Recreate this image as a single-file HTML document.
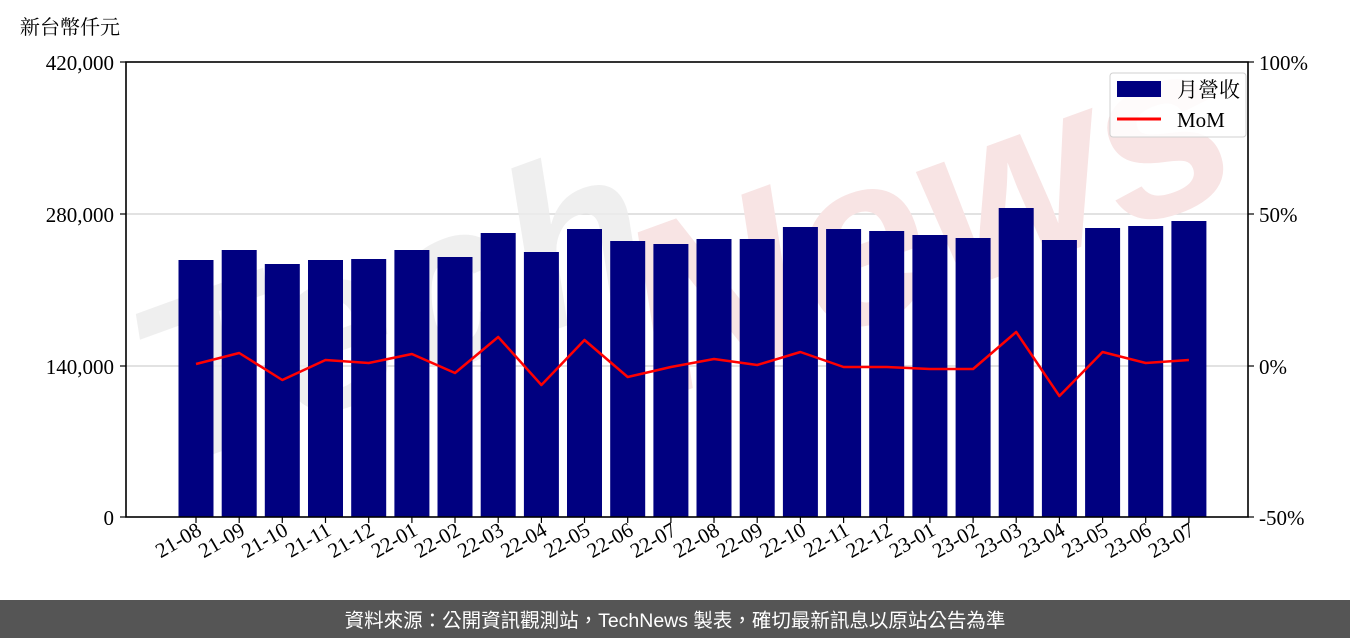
<!DOCTYPE html>
<html><head><meta charset="utf-8"><style>
html,body{margin:0;padding:0;background:#fff;}
svg{display:block;}
.t{font-family:"Liberation Serif","Noto Serif CJK SC",serif;font-size:21px;fill:#000;}
</style></head><body>
<svg width="1350" height="638" viewBox="0 0 1350 638" xmlns="http://www.w3.org/2000/svg">
<text x="20" y="34" class="t" style="font-family:'Liberation Serif','Noto Serif CJK TC',serif;font-size:20px">新台幣仟元</text>
<line x1="126" y1="214" x2="1248" y2="214" stroke="#d8d8d8" stroke-width="1.5"/>
<line x1="126" y1="366" x2="1248" y2="366" stroke="#d8d8d8" stroke-width="1.5"/>
<g font-family="Liberation Sans, sans-serif" font-weight="bold" font-style="italic">
<text x="170" y="470" font-size="230" fill="#ececec" opacity="0.8" transform="rotate(-20 170 470)">Tech</text>
<text x="660" y="400" font-size="240" fill="#f8e4e4" transform="rotate(-20 660 400)">News</text>
</g>
<g fill="#000080">
<rect x="178.5" y="260" width="35" height="257"/>
<rect x="221.7" y="250" width="35" height="267"/>
<rect x="264.8" y="264" width="35" height="253"/>
<rect x="308" y="260" width="35" height="257"/>
<rect x="351.2" y="259" width="35" height="258"/>
<rect x="394.4" y="250" width="35" height="267"/>
<rect x="437.5" y="257" width="35" height="260"/>
<rect x="480.7" y="233" width="35" height="284"/>
<rect x="523.9" y="252" width="35" height="265"/>
<rect x="567" y="229" width="35" height="288"/>
<rect x="610.2" y="241" width="35" height="276"/>
<rect x="653.4" y="244" width="35" height="273"/>
<rect x="696.5" y="239" width="35" height="278"/>
<rect x="739.7" y="239" width="35" height="278"/>
<rect x="782.9" y="227" width="35" height="290"/>
<rect x="826.1" y="229" width="35" height="288"/>
<rect x="869.2" y="231" width="35" height="286"/>
<rect x="912.4" y="235" width="35" height="282"/>
<rect x="955.6" y="238" width="35" height="279"/>
<rect x="998.7" y="208" width="35" height="309"/>
<rect x="1041.9" y="240" width="35" height="277"/>
<rect x="1085.1" y="228" width="35" height="289"/>
<rect x="1128.2" y="226" width="35" height="291"/>
<rect x="1171.4" y="221" width="35" height="296"/>
</g>
<polyline fill="none" stroke="#ff0000" stroke-width="2.5" stroke-linejoin="round" points="196,364 239.2,353 282.3,380 325.5,360 368.7,363 411.9,354 455,373 498.2,337 541.4,385 584.5,340 627.7,377 670.9,367 714,359 757.2,365 800.4,352 843.6,367 886.7,367 929.9,369 973.1,369 1016.2,332 1059.4,396 1102.6,352 1145.7,363 1188.9,360"/>
<rect x="126" y="62" width="1122" height="455" fill="none" stroke="#000" stroke-width="1.6"/>
<g stroke="#000" stroke-width="1.2">
<line x1="120" y1="62" x2="126" y2="62"/><line x1="120" y1="214" x2="126" y2="214"/>
<line x1="120" y1="366" x2="126" y2="366"/><line x1="120" y1="517" x2="126" y2="517"/>
<line x1="1248" y1="62" x2="1254" y2="62"/><line x1="1248" y1="214" x2="1254" y2="214"/>
<line x1="1248" y1="366" x2="1254" y2="366"/><line x1="1248" y1="517" x2="1254" y2="517"/>
</g>
<text x="114" y="70" class="t" text-anchor="end">420,000</text>
<text x="114" y="222" class="t" text-anchor="end">280,000</text>
<text x="114" y="374" class="t" text-anchor="end">140,000</text>
<text x="114" y="525" class="t" text-anchor="end">0</text>
<text x="1259" y="70" class="t">100%</text>
<text x="1259" y="222" class="t">50%</text>
<text x="1259" y="374" class="t">0%</text>
<text x="1259" y="525" class="t">-50%</text>
<g stroke="#000" stroke-width="1.2">
<line x1="196" y1="517" x2="196" y2="523"/><line x1="239.2" y1="517" x2="239.2" y2="523"/><line x1="282.3" y1="517" x2="282.3" y2="523"/><line x1="325.5" y1="517" x2="325.5" y2="523"/><line x1="368.7" y1="517" x2="368.7" y2="523"/><line x1="411.9" y1="517" x2="411.9" y2="523"/><line x1="455" y1="517" x2="455" y2="523"/><line x1="498.2" y1="517" x2="498.2" y2="523"/><line x1="541.4" y1="517" x2="541.4" y2="523"/><line x1="584.5" y1="517" x2="584.5" y2="523"/><line x1="627.7" y1="517" x2="627.7" y2="523"/><line x1="670.9" y1="517" x2="670.9" y2="523"/><line x1="714" y1="517" x2="714" y2="523"/><line x1="757.2" y1="517" x2="757.2" y2="523"/><line x1="800.4" y1="517" x2="800.4" y2="523"/><line x1="843.6" y1="517" x2="843.6" y2="523"/><line x1="886.7" y1="517" x2="886.7" y2="523"/><line x1="929.9" y1="517" x2="929.9" y2="523"/><line x1="973.1" y1="517" x2="973.1" y2="523"/><line x1="1016.2" y1="517" x2="1016.2" y2="523"/><line x1="1059.4" y1="517" x2="1059.4" y2="523"/><line x1="1102.6" y1="517" x2="1102.6" y2="523"/><line x1="1145.7" y1="517" x2="1145.7" y2="523"/><line x1="1188.9" y1="517" x2="1188.9" y2="523"/>
</g>
<g>
<text class="t" text-anchor="end" transform="translate(203,534) rotate(-30)">21-08</text>
<text class="t" text-anchor="end" transform="translate(246.2,534) rotate(-30)">21-09</text>
<text class="t" text-anchor="end" transform="translate(289.3,534) rotate(-30)">21-10</text>
<text class="t" text-anchor="end" transform="translate(332.5,534) rotate(-30)">21-11</text>
<text class="t" text-anchor="end" transform="translate(375.7,534) rotate(-30)">21-12</text>
<text class="t" text-anchor="end" transform="translate(418.9,534) rotate(-30)">22-01</text>
<text class="t" text-anchor="end" transform="translate(462,534) rotate(-30)">22-02</text>
<text class="t" text-anchor="end" transform="translate(505.2,534) rotate(-30)">22-03</text>
<text class="t" text-anchor="end" transform="translate(548.4,534) rotate(-30)">22-04</text>
<text class="t" text-anchor="end" transform="translate(591.5,534) rotate(-30)">22-05</text>
<text class="t" text-anchor="end" transform="translate(634.7,534) rotate(-30)">22-06</text>
<text class="t" text-anchor="end" transform="translate(677.9,534) rotate(-30)">22-07</text>
<text class="t" text-anchor="end" transform="translate(721,534) rotate(-30)">22-08</text>
<text class="t" text-anchor="end" transform="translate(764.2,534) rotate(-30)">22-09</text>
<text class="t" text-anchor="end" transform="translate(807.4,534) rotate(-30)">22-10</text>
<text class="t" text-anchor="end" transform="translate(850.6,534) rotate(-30)">22-11</text>
<text class="t" text-anchor="end" transform="translate(893.7,534) rotate(-30)">22-12</text>
<text class="t" text-anchor="end" transform="translate(936.9,534) rotate(-30)">23-01</text>
<text class="t" text-anchor="end" transform="translate(980.1,534) rotate(-30)">23-02</text>
<text class="t" text-anchor="end" transform="translate(1023.2,534) rotate(-30)">23-03</text>
<text class="t" text-anchor="end" transform="translate(1066.4,534) rotate(-30)">23-04</text>
<text class="t" text-anchor="end" transform="translate(1109.6,534) rotate(-30)">23-05</text>
<text class="t" text-anchor="end" transform="translate(1152.7,534) rotate(-30)">23-06</text>
<text class="t" text-anchor="end" transform="translate(1195.9,534) rotate(-30)">23-07</text>
</g>
<rect x="1110" y="73" width="136" height="64" rx="3" fill="#fff" fill-opacity="0.85" stroke="#d0d0d0" stroke-width="1"/>
<rect x="1117" y="81" width="44" height="16" fill="#000080"/>
<line x1="1117" y1="119" x2="1161" y2="119" stroke="#ff0000" stroke-width="3"/>
<text x="1177" y="97" class="t" style="font-family:'Liberation Serif','Noto Serif CJK TC',serif">月營收</text>
<text x="1177" y="127" class="t">MoM</text>
<rect x="0" y="600" width="1350" height="38" fill="#555555"/>
<text x="675" y="627" text-anchor="middle" font-family="Liberation Sans, 'Noto Sans CJK TC', sans-serif" font-size="19.5" fill="#ffffff">資料來源：公開資訊觀測站，TechNews 製表，確切最新訊息以原站公告為準</text>
</svg>
</body></html>
